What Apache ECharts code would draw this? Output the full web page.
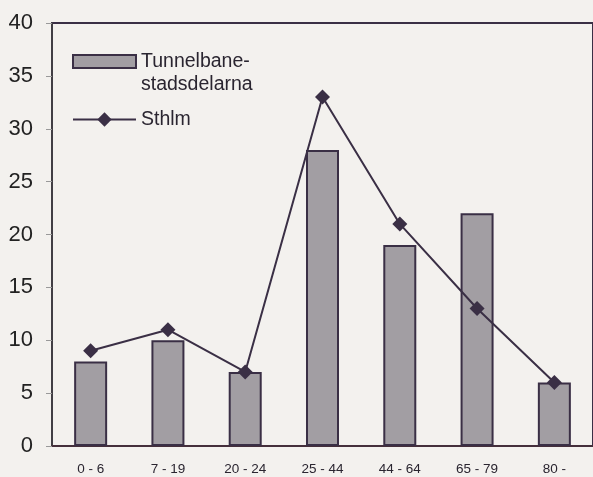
<!DOCTYPE html>
<html>
<head>
<meta charset="utf-8">
<script src="https://cdn.jsdelivr.net/npm/echarts@6/dist/echarts.min.js"></script>
<style>
  html, body { margin: 0; padding: 0; background: #f3f1ee; }
  #chart { width: 593px; height: 477px; }
</style>
</head>
<body>
<div id="chart"></div>
<script>
// åldersgrupper
const categories = ['0 - 6', '7 - 19', '20 - 24', '25 - 44', '44 - 64', '65 - 79', '80 -'];
const tunnelbane = [8, 10, 7, 28, 19, 22, 6];
const sthlm = [9, 11, 7, 33, 21, 13, 6];
const yTicks = { min: 0, max: 40, step: 5 };

const barName = 'Tunnelbane-\nstadsdelarna';
const lineName = 'Sthlm';
const ink = '#3a2f45';
const font = 'Liberation Sans, Arial, sans-serif';
const legendText = { fontSize: 19.5, color: '#2a2530', fontFamily: font, lineHeight: 23 };

const chart = echarts.init(document.getElementById('chart'));
chart.setOption({
  backgroundColor: '#f3f1ee',
  animation: false,
  textStyle: { fontFamily: font },
  grid: {
    left: 52, top: 23, right: -7, bottom: 31,
    show: true, borderColor: ink, borderWidth: 2, backgroundColor: 'transparent'
  },
  legend: [
    {
      orient: 'vertical',
      left: 72,
      top: 27,
      padding: 0,
      itemWidth: 63,
      itemHeight: 13,
      // tom första rad så att "Tunnelbane-" hamnar i höjd med symbolen
      formatter: name => ' \n' + name,
      textStyle: legendText,
      data: [{ name: barName, icon: 'rect' }]
    },
    {
      orient: 'vertical',
      left: 72,
      top: 108,
      padding: 0,
      itemWidth: 63,
      itemHeight: 18,
      textStyle: legendText,
      data: [lineName]
    }
  ],
  xAxis: {
    type: 'category',
    data: categories,
    boundaryGap: true,
    axisLine: { lineStyle: { color: '#4a3038', width: 1.5 } },
    axisTick: { inside: true, length: 5, lineStyle: { color: '#888' } },
    axisLabel: { fontSize: 13.5, color: '#2a2530', margin: 16, fontFamily: font }
  },
  yAxis: {
    type: 'value',
    min: yTicks.min, max: yTicks.max, interval: yTicks.step,
    splitLine: { show: false },
    axisLine: { show: true, lineStyle: { color: '#444', width: 1.5 } },
    axisTick: { show: true, length: 6, lineStyle: { color: '#999' } },
    axisLabel: { fontSize: 22, color: '#222', margin: 19, fontFamily: font }
  },
  series: [
    {
      name: barName,
      type: 'bar',
      data: tunnelbane,
      barWidth: 33,
      itemStyle: { color: '#a29ea3', borderColor: ink, borderWidth: 2 }
    },
    {
      name: lineName,
      type: 'line',
      data: sthlm,
      symbol: 'diamond',
      symbolSize: 15,
      lineStyle: { color: ink, width: 2 },
      itemStyle: { color: ink }
    }
  ]
});
</script>
</body>
</html>
